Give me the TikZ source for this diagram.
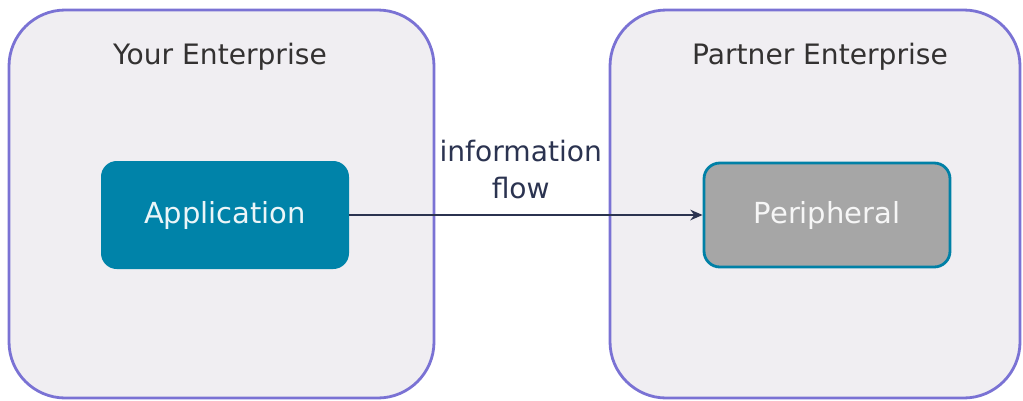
\documentclass[tikz,border=0pt]{standalone}
\usepackage{fontspec}
\setmainfont{DejaVu Sans}
\usepackage{tikz}
\usetikzlibrary{arrows.meta}

\definecolor{encfill}{HTML}{F0EEF2}
\definecolor{encline}{HTML}{7A72D4}
\definecolor{appfill}{HTML}{0083A9}
\definecolor{perfill}{HTML}{A6A6A6}
\definecolor{perline}{HTML}{0080A6}
\definecolor{flowcol}{HTML}{2B3350}
\definecolor{titlecol}{HTML}{333131}

\begin{document}
\begin{tikzpicture}[x=0.02cm,y=-0.02cm,
    enterprise/.style={draw=encline,fill=encfill,line width=1.6pt,rounded corners=32pt,inner sep=0pt},
    title/.style={text=titlecol,font=\fontsize{16}{20}\selectfont},
    app/.style={fill=appfill,rounded corners=9pt,minimum width=248*0.02cm,minimum height=108*0.02cm,
        text=white!92!appfill,font=\fontsize{16.5}{20}\selectfont},
    periph/.style={draw=perline,line width=1.6pt,fill=perfill,rounded corners=9pt,minimum width=246*0.02cm,
        minimum height=104*0.02cm,text=white!90!perfill,font=\fontsize{16.5}{20}\selectfont}]
    \useasboundingbox (0,0) rectangle (1023,400);
    \node[enterprise,minimum width=425*0.02cm,minimum height=388*0.02cm] (yours) at (221.5,204) {};
    \node[enterprise,minimum width=410*0.02cm,minimum height=388*0.02cm] (partner) at (815,204) {};
    \node[title] (yourstitle) at (220,57) {Your Enterprise};
    \node[title] (partnertitle) at (820,57) {Partner Enterprise};
    \node[app] (appl) at (225,215) {Application};
    \node[periph] (perl) at (827,215) {Peripheral};
    \draw[flowcol,line width=1.3pt,-{Stealth[length=7pt,width=6pt]}] (appl) -- node[above,yshift=5pt,xshift=-3pt,align=center,
        text=flowcol,font=\fontsize{16}{21}\selectfont] (flowlabel) {information\\flow} (perl);
\end{tikzpicture}
\end{document}
